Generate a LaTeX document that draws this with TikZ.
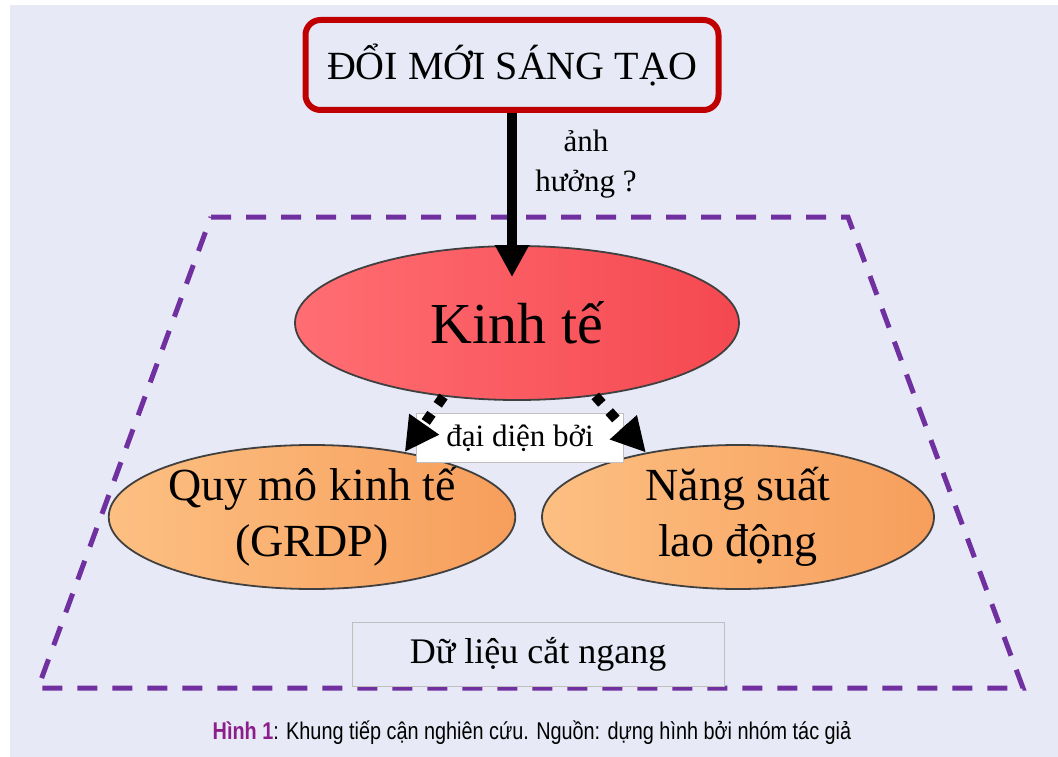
\documentclass[tikz,border=0pt]{standalone}
\usepackage{fontspec}
\setmainfont{Liberation Serif}
\newfontfamily\capfont[FakeStretch=0.82]{Liberation Sans}
\usetikzlibrary{shapes.geometric,arrows.meta}
\definecolor{bgblue}{RGB}{231,234,246}
\definecolor{boxred}{RGB}{192,0,0}
\definecolor{trappurple}{RGB}{112,48,160}
\definecolor{capviolet}{RGB}{140,30,140}
\begin{document}
\begin{tikzpicture}[x=1pt,y=-1pt,
    title node/.style={draw=boxred, line width=6pt, rounded corners=15pt, fill=bgblue,
      minimum width=413pt, minimum height=90pt, font=\fontsize{40}{44}\selectfont},
    econ node/.style={ellipse, draw=black!75, line width=1.8pt, left color={rgb,255:red,255;green,110;blue,115}, right color={rgb,255:red,245;green,72;blue,80},
      minimum width=444pt, minimum height=154pt, inner sep=0pt, font=\fontsize{58}{62}\selectfont},
    measure node/.style={ellipse, draw=black!75, line width=1.8pt, left color={rgb,255:red,252;green,192;blue,130}, right color={rgb,255:red,247;green,158;blue,92},
      minimum width=392pt, minimum height=144pt, inner sep=0pt, align=center, font=\fontsize{46}{56}\selectfont},
    label node/.style={draw=black!25, fill=white, minimum width=207pt, minimum height=49pt, font=\fontsize{31}{34}\selectfont},
    dotted arrow/.style={line width=10pt, dash pattern=on 10pt off 11pt, -{Triangle[length=34pt,width=34pt]}},
    ]
  \useasboundingbox (0,0) rectangle (1058,757);
  \fill[bgblue] (10,5) rectangle (1058,757);

  % frame for the cross-section data
  \draw[trappurple, line width=5pt, dash pattern=on 20pt off 15pt]
    (211,217) -- (848,217) -- (1023,688) -- (38,688) -- cycle;

  \node[title node] (dm) at (512,65) {ĐỔI MỚI SÁNG TẠO};
  \node[econ node] (kt) at (517,323) {Kinh tế};
  \node[measure node] (qm) at (312,517) {Quy mô kinh tế\\(GRDP)};
  \node[measure node] (ns) at (738,517) {Năng suất\\lao động};
  \node[label node] (db) at (520,438) {đại diện bởi};
  \node[draw=black!25, fill=bgblue, minimum width=372pt, minimum height=64pt,
    font=\fontsize{36}{40}\selectfont] (dl) at (538,654) {Dữ liệu cắt ngang};

  \node[align=center, font=\fontsize{31}{40}\selectfont] (ah) at (586,164) {ảnh\\hưởng ?};

  \draw[line width=10pt, -{Triangle[length=32pt,width=32pt]}, shorten >=-32pt] (dm.south) -- (dm.south |- kt.north);
  \draw[dotted arrow] (kt.225) -- (qm.35);
  \draw[dotted arrow] (kt.317) -- (ns.145);

  \node[font=\capfont\fontsize{24.2}{27}\selectfont] (cap) at (532,733)
    {\textcolor{capviolet}{\textbf{Hình 1}}: Khung tiếp cận nghiên cứu. Nguồn: dựng hình bởi nhóm tác giả};
\end{tikzpicture}
\end{document}
